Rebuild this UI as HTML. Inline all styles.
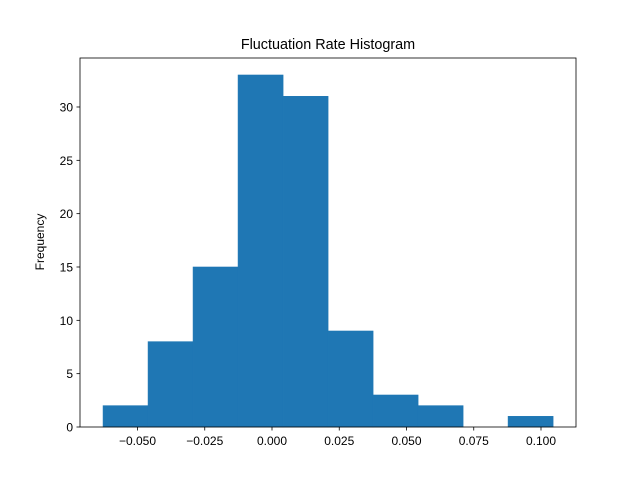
<!DOCTYPE html>
<html><head><meta charset="utf-8"><style>body{margin:0;background:#fff}svg{display:block;font-family:"Liberation Sans","DejaVu Sans",sans-serif}</style></head>
<body>
<svg id="chart" width="640" height="480">
<rect width="640" height="480" fill="#fff"/>
<text x="328" y="49" font-size="14.4" text-anchor="middle">Fluctuation Rate Histogram</text>
<g id="bars"></g>
<g id="xticks"></g>
<g id="yticks"></g>
<rect x="80" y="58" width="496" height="369" fill="none" stroke="#000" stroke-width="0.8"/>
<text transform="translate(44,242) rotate(-90)" font-size="12" text-anchor="middle">Frequency</text>
</svg>
<script>
const binStart = -0.0628;
const binWidth = 0.01673;
const counts = [2, 8, 15, 33, 31, 9, 3, 2, 0, 1];
const xTicks = [-0.05, -0.025, 0, 0.025, 0.05, 0.075, 0.1];
const xTickLabels = ["−0.050", "−0.025", "0.000", "0.025", "0.050", "0.075", "0.100"];
const yTicks = [0, 5, 10, 15, 20, 25, 30];

const NS = "http://www.w3.org/2000/svg";
const X = v => 272 + v * 2690;
const Y = v => 427 - v * 10.667;
function mk(tag, attrs, parent) {
  const e = document.createElementNS(NS, tag);
  for (const k in attrs) e.setAttribute(k, attrs[k]);
  parent.appendChild(e);
  return e;
}
const bars = document.getElementById('bars');
counts.forEach((c, i) => {
  if (c <= 0) return;
  const x0 = X(binStart + i * binWidth), x1 = X(binStart + (i + 1) * binWidth);
  const r = mk('rect', {x: x0, y: Y(c), width: x1 - x0, height: Y(0) - Y(c), fill: '#1f77b4', stroke: '#1f77b4', 'stroke-width': 0.6}, bars);
  
  
});
const xg = document.getElementById('xticks');
xTicks.forEach((t, i) => {
  const x = X(t);
  const l = mk('line', {x1: x, x2: x, y1: 427, y2: 430.5, stroke: '#000', 'stroke-width': 0.8}, xg);
  
  
  const tx = mk('text', {x: x, y: 445, 'font-size': 12, 'text-anchor': 'middle'}, xg);
  tx.textContent = xTickLabels[i];
  
  
});
const yg = document.getElementById('yticks');
yTicks.forEach(t => {
  const y = Y(t);
  const l = mk('line', {x1: 76.5, x2: 80, y1: y, y2: y, stroke: '#000', 'stroke-width': 0.8}, yg);
  
  
  const tx = mk('text', {x: 73, y: y + 4.5, 'font-size': 12, 'text-anchor': 'end'}, yg);
  tx.textContent = t;
  
  
});
</script>
</body></html>
